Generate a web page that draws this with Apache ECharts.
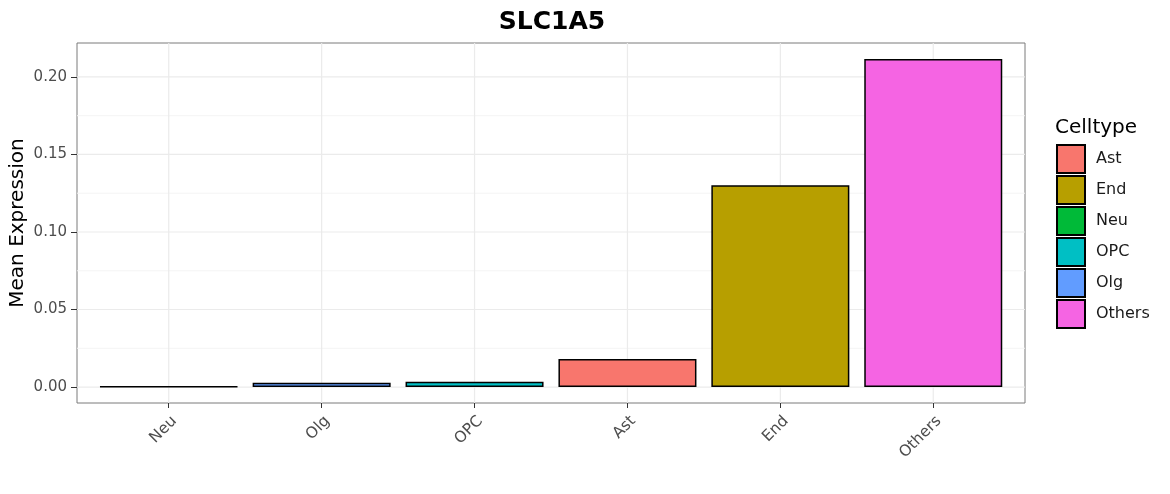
<!DOCTYPE html>
<html><head><meta charset="utf-8">
<script src="https://cdn.jsdelivr.net/npm/echarts@6/dist/echarts.min.js"></script>
<style>html,body{margin:0;padding:0;background:#fff}#c{width:1170px;height:494px}</style>
</head><body><div id="c"></div>
<script>
const categories = ['Neu','Olg','OPC','Ast','End','Others'];
const values = [0.0003, 0.0027, 0.0034, 0.0181, 0.1302, 0.2116];
const legendOrder = ['Ast','End','Neu','OPC','Olg','Others'];
const colors = {Ast:'#F8766D', End:'#B79F00', Neu:'#00BA38', OPC:'#00BFC4', Olg:'#619CFF', Others:'#F564E3'};
const yTicks = [0, 0.05, 0.10, 0.15, 0.20];
const yMinor = [0.025, 0.075, 0.125, 0.175];
const xTicks = categories.map((c,i)=>i);
const yMin = -0.0103, yMax = 0.2219;
const xMin = -0.6, xMax = categories.length - 1 + 0.6;

const chart = echarts.init(document.getElementById('c'));
const FONT = 'DejaVu Sans';
const barSeries = legendOrder.map(name => ({
  name, type:'bar', barGap:'-100%', barWidth:138, z:3,
  data: categories.map((c,i) => c === name ? [i, values[i]] : null).filter(d=>d),
  itemStyle:{color:colors[name], borderColor:'#000', borderWidth:1.5}
}));
const gridData = [
  ...yMinor.map(v => ['h', v, 'minor']),
  ...yTicks.map(v => ['h', v, 'major']),
  ...xTicks.map(i => ['v', i, 'major'])
];
const gridSeries = {
  name:'grid', type:'custom', z:1, silent:true,
  data: gridData.map((d,i)=>[i]),
  renderItem: function(params, api){
    const d = gridData[params.dataIndex];
    const cs = params.coordSys;
    const col = d[2] === 'major' ? '#ebebeb' : '#f4f4f4';
    const w = d[2] === 'major' ? 1.2 : 1;
    let shape;
    if (d[0] === 'h') {
      const y = api.coord([0, d[1]])[1];
      shape = {x1:cs.x, y1:y, x2:cs.x+cs.width, y2:y};
    } else {
      const x = api.coord([d[1], 0])[0];
      shape = {x1:x, y1:cs.y, x2:x, y2:cs.y+cs.height};
    }
    return {type:'line', shape, style:{stroke:col, lineWidth:w}};
  }
};
chart.setOption({
  animation:false,
  textStyle:{fontFamily:FONT},
  title:{text:'SLC1A5', left:547, top:5, textAlign:'center',
    textStyle:{fontFamily:FONT, fontSize:25, fontWeight:'bold', color:'#000'}},
  grid:{left:77, right:145, top:43, bottom:91, outerBoundsMode:'none', containLabel:false,
    show:true, borderColor:'#7a7a7a', borderWidth:1, backgroundColor:'transparent'},
  xAxis:{type:'value', min:xMin, max:xMax, position:'bottom',
    axisLine:{show:false, onZero:false},
    axisTick:{show:true, length:5, customValues:xTicks, lineStyle:{color:'#333'}},
    axisLabel:{customValues:xTicks, formatter:v=>categories[Math.round(v)], rotate:45,
      verticalAlign:'top', fontSize:15.5, color:'#4d4d4d', margin:10, fontFamily:FONT},
    splitLine:{show:false}},
  yAxis:{type:'value', min:yMin, max:yMax, position:'left',
    axisLine:{show:false, onZero:false},
    axisTick:{show:true, length:6, customValues:yTicks, lineStyle:{color:'#333'}},
    axisLabel:{customValues:yTicks, formatter:v=>v.toFixed(2), fontSize:15, color:'#4d4d4d', margin:10, fontFamily:FONT},
    splitLine:{show:false}},
  legend:{orient:'vertical', left:1056, top:144, padding:0, itemWidth:28, itemHeight:28, itemGap:1,
    icon:'rect', data:legendOrder,
    textStyle:{fontSize:16, color:'#1a1a1a', fontFamily:FONT, padding:[0,0,0,6]}},
  graphic:[
    {type:'text', left:1055, top:118,
      style:{text:'Celltype', fontSize:20, fill:'#000', fontFamily:FONT}},
    {type:'text', x:18, y:223, rotation:Math.PI/2,
      style:{text:'Mean Expression', fontSize:20, fill:'#000', fontFamily:FONT,
        align:'center', verticalAlign:'middle'}}
  ],
  series:[gridSeries, ...barSeries]
});
</script></body></html>
